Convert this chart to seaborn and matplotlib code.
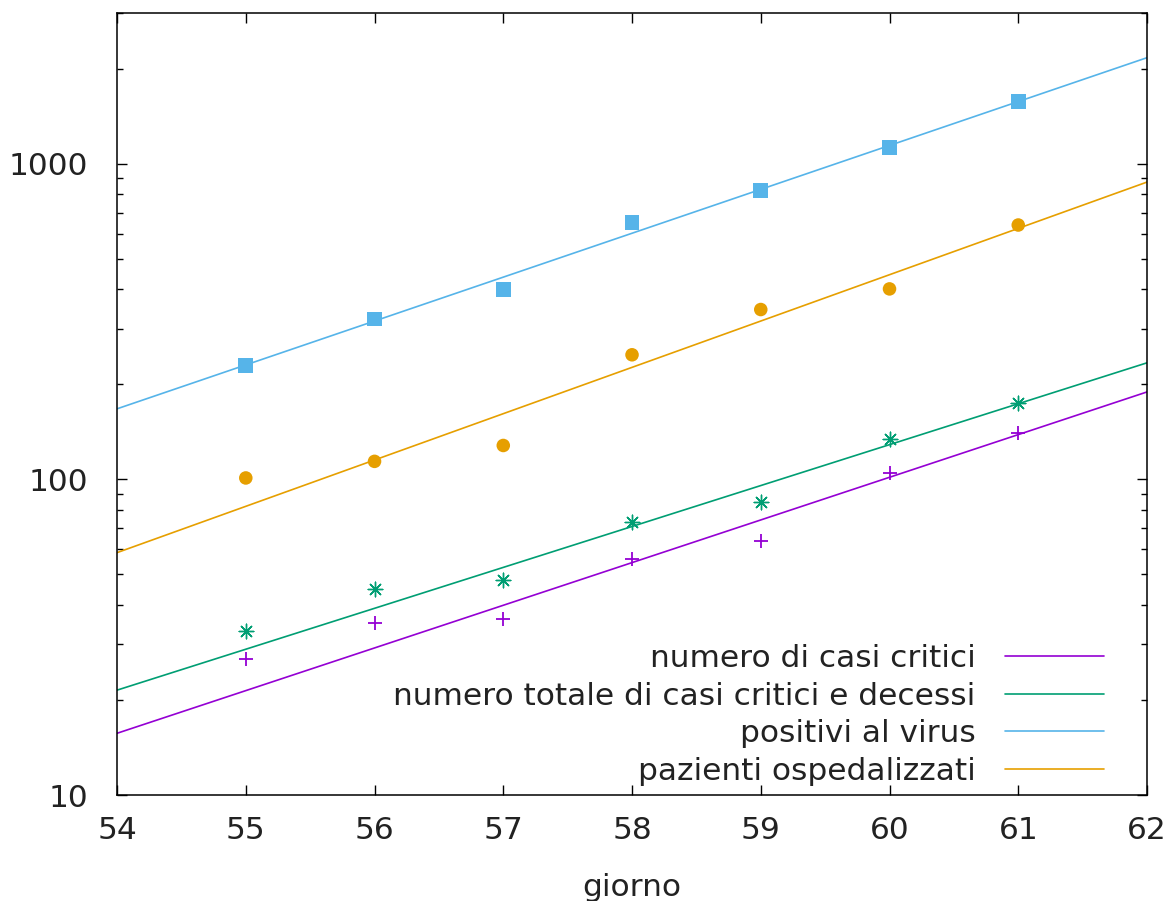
# Italian COVID-19 early growth with exponential fits (log scale)
import matplotlib
import numpy as np
import seaborn as sns

matplotlib.use("Agg")
import matplotlib.pyplot as plt
from matplotlib.ticker import FixedLocator, LogLocator, NullFormatter

giorni = np.array([55, 56, 57, 58, 59, 60, 61])
critici = np.array([27, 35, 36, 56, 64, 105, 140])
critici_decessi = np.array([33, 45, 48, 73, 85, 134, 174])
positivi = np.array([229, 322, 400, 650, 821, 1128, 1577])
ospedalizzati = np.array([101, 114, 128, 248, 345, 401, 639])

etichette = [
    "numero di casi critici",
    "numero totale di casi critici e decessi",
    "positivi al virus",
    "pazienti ospedalizzati",
]
colori = ["#9400D3", "#009E73", "#56B4E9", "#E69F00"]
marker = ["+", (8, 2, 0), "s", "o"]
dimensioni = [110, 110, 115, 95]
spessori = [1.3, 1.0, 0, 0]

FS = 22.5


def expfit(x, y, x0=58.0):
    # least squares on a*exp(b*(x-x0)), like gnuplot's fit
    xc = x - x0
    b, lna = np.polyfit(xc, np.log(y), 1)
    a = np.exp(lna)
    for _ in range(100):
        e = np.exp(b * xc)
        J = np.column_stack([e, a * xc * e])
        step = np.linalg.lstsq(J, y - a * e, rcond=None)[0]
        a += step[0]
        b += step[1]
    return a, b


sns.set_style("ticks")
plt.rcParams["font.family"] = ["DejaVu Sans"]
plt.rcParams["font.size"] = FS

fig = plt.figure(figsize=(11.74, 9.01), dpi=100)
ax = fig.add_axes([0.0997, 0.1176, 0.8773, 0.868])

xs = np.linspace(54, 62, 200)
serie = [critici, critici_decessi, positivi, ospedalizzati]
for dati, lab, col, mk, sz, lw in zip(serie, etichette, colori, marker,
                                      dimensioni, spessori):
    a, b = expfit(giorni, dati.astype(float))
    sns.lineplot(x=xs, y=a * np.exp(b * (xs - 58)), color=col, linewidth=1.2,
                 ax=ax, label=lab)
    if lw > 0:
        sns.scatterplot(x=giorni, y=dati, marker=mk, color=col, s=sz,
                        linewidth=lw, ax=ax, legend=False, zorder=3)
    else:
        sns.scatterplot(x=giorni, y=dati, marker=mk, color=col, s=sz,
                        edgecolor="none", ax=ax, legend=False, zorder=3)

ax.set_yscale("log")
ax.set_xlim(54, 62)
ax.set_ylim(10, 3000)
ax.set_xticks(range(54, 63))
ax.yaxis.set_major_locator(FixedLocator([10, 100, 1000]))
ax.set_yticklabels(["10", "100", "1000"])
ax.yaxis.set_minor_locator(LogLocator(base=10, subs=np.arange(2, 10)))
ax.yaxis.set_minor_formatter(NullFormatter())

for s in ax.spines.values():
    s.set_visible(True)
    s.set_linewidth(1.1)
    s.set_color("black")
ax.tick_params(which="both", direction="in", top=True, right=True,
               colors="black", labelcolor="#222222")
ax.tick_params(which="major", length=7, width=1.0, labelsize=FS)
ax.tick_params(which="minor", length=4, width=1.0)
ax.tick_params(axis="y", pad=21)
ax.tick_params(axis="x", pad=15)
ax.set_xlabel("giorno", fontsize=FS, color="#222222", labelpad=20)
ax.set_ylabel("")

leg = ax.legend(loc="lower right", frameon=False, markerfirst=False,
                handlelength=3.15, handletextpad=0.95, labelspacing=0.27,
                borderpad=0, borderaxespad=0, fontsize=FS,
                bbox_to_anchor=(0.958, 0.012))
for t in leg.get_texts():
    t.set_color("#222222")

plt.savefig("out.png", dpi=100)
print("Saved out.png")
